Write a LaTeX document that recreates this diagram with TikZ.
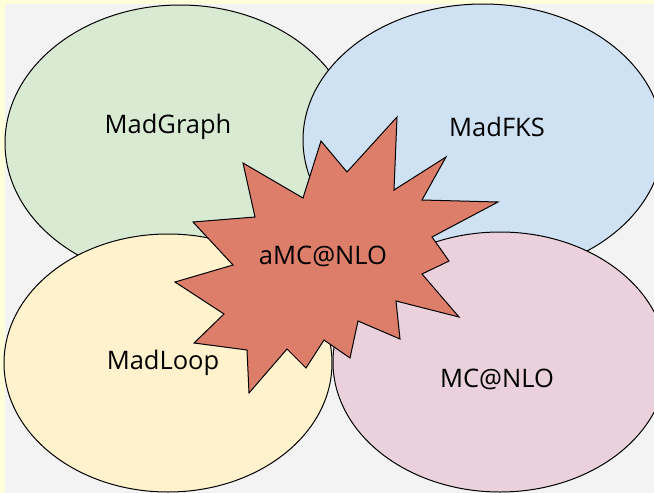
\documentclass[tikz,border=0pt]{standalone}
\usepackage{fontspec}
\setmainfont{Open Sans}
\usepackage{tikz}
\usetikzlibrary{shapes.geometric,positioning}
\usepackage{xcolor}

\definecolor{pagebg}{HTML}{FEFED8}
\definecolor{canvas}{HTML}{F3F3F3}
\definecolor{mgcol}{HTML}{D9EAD3}
\definecolor{fkscol}{HTML}{CFE2F3}
\definecolor{loopcol}{HTML}{FFF2CC}
\definecolor{mccol}{HTML}{EAD1DC}
\definecolor{starcol}{HTML}{DD7E6B}

\tikzset{
  blob/.style={ellipse, draw=black, line width=1pt, inner sep=0pt},
  tool/.style={font=\fontsize{25.5}{30}\selectfont, text=black}
}

\begin{document}
\begin{tikzpicture}[x=1pt, y=-1pt]
    \useasboundingbox (0,0) rectangle (654,493);
    % Page and canvas
    \fill[pagebg] (0,0) rectangle (654,493);
    \fill[canvas] (5,4) rectangle (654,493);

    % MadGraph region
    \node[blob, fill=mgcol, minimum width=350pt, minimum height=276pt] (madgraph) at (180,143) {};
    % MadFKS region
    \node[blob, fill=fkscol, minimum width=360pt, minimum height=272pt] (madfks) at (483,140) {};
    % MadLoop region
    \node[blob, fill=loopcol, minimum width=328pt, minimum height=258pt] (madloop) at (168,363) {};
    % MC@NLO region
    \node[blob, fill=mccol, minimum width=334pt, minimum height=260pt] (mcatnlo) at (500,362) {};

    % Labels
    \node[tool] (mglabel) at (168,127) {MadGraph};
    \node[tool] (fkslabel) at (497,127) {MadFKS};
    \node[tool] (looplabel) at (163,363) {MadLoop};
    \node[tool] (mclabel) at (497,379) {MC@NLO};

    % aMC@NLO burst
    \draw[fill=starcol, line width=1pt, line join=miter]
        (397,117) -- (394,190) -- (446,157) -- (422,200) -- (498,202) -- (432,237)
        -- (449,261) -- (422,274) -- (459,317) -- (396,301) -- (400,339) -- (358,321)
        -- (350,358) -- (324,340) -- (306,368) -- (287,349) -- (249,393) -- (247,350)
        -- (194,343) -- (224,314) -- (175,282) -- (233,265) -- (193,222) -- (255,217)
        -- (243,163) -- (303,198) -- (321,141) -- (347,172) -- cycle;
    \node[tool] (amcatnlo) at (323,256) {aMC@NLO};
\end{tikzpicture}
\end{document}
